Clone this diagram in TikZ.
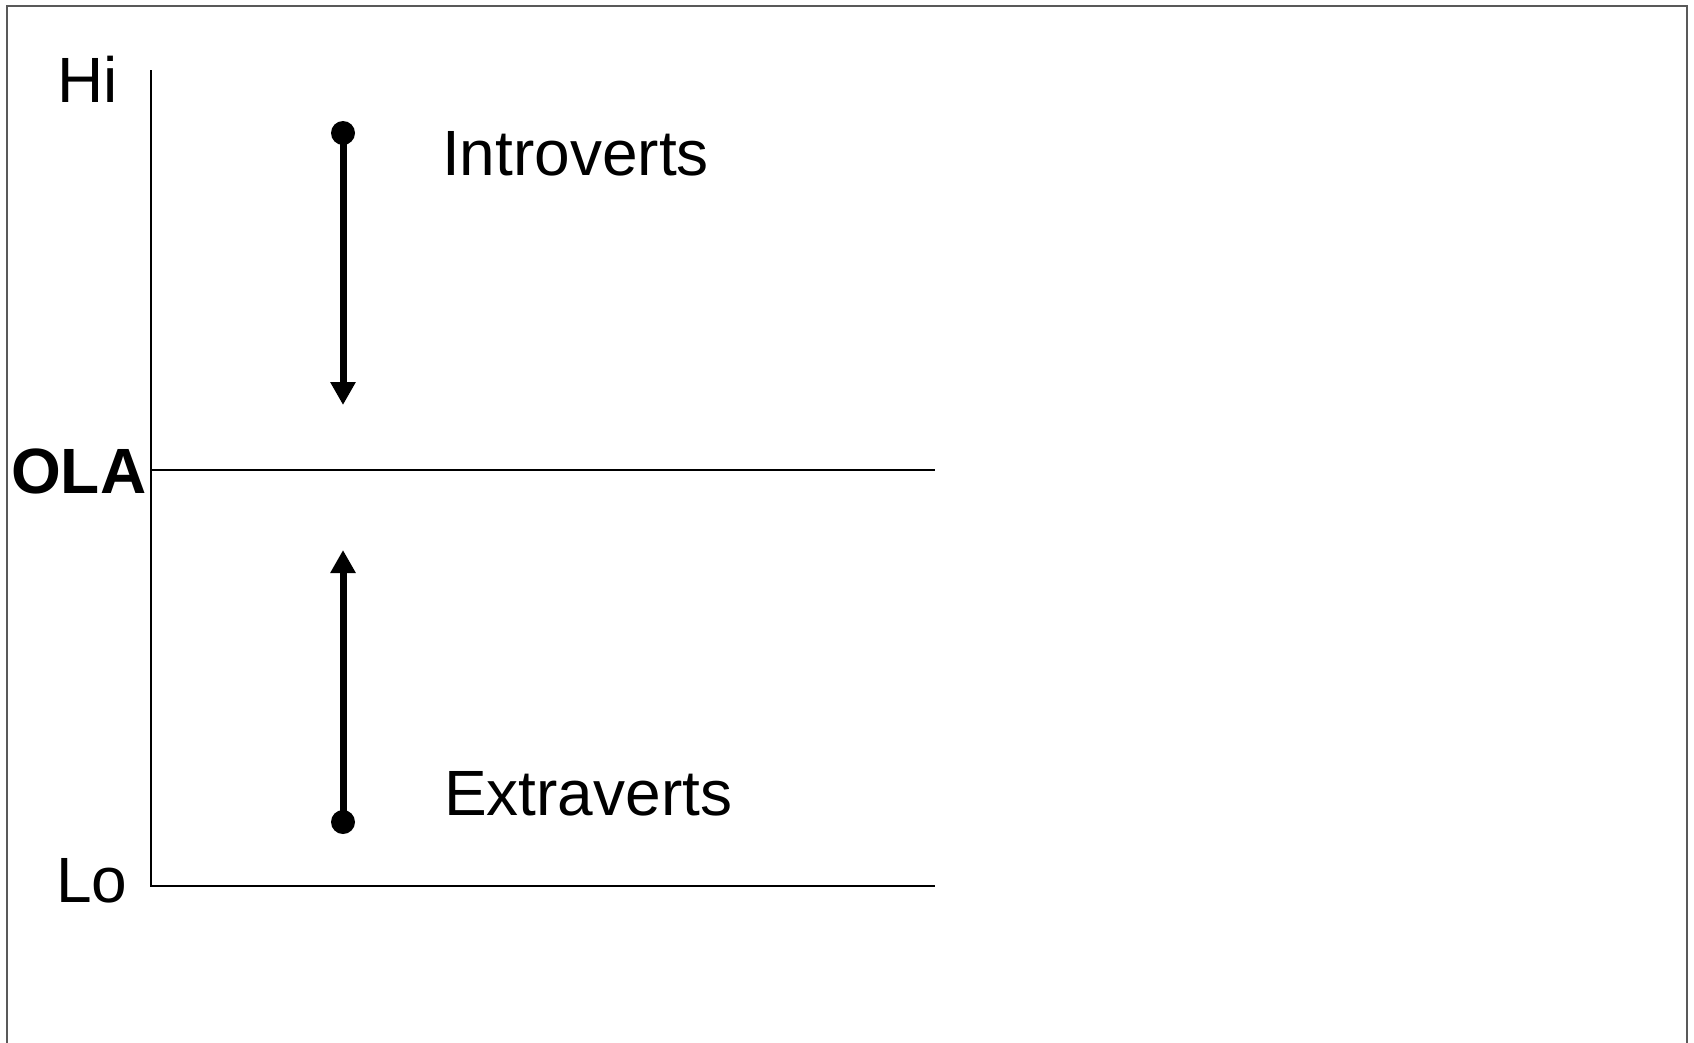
\documentclass[tikz,border=0pt]{standalone}
\usepackage{fontspec}
\setmainfont{Liberation Sans}
\usetikzlibrary{arrows.meta}
\begin{document}
\begin{tikzpicture}[x=1pt,y=-1pt,
  lbl/.style={inner sep=0pt,anchor=base west,font=\fontsize{64}{70}\selectfont},
  axis/.style={line width=2pt,black},
  dotnode/.style={circle,fill=black,inner sep=0pt,minimum size=24pt},
  move/.style={line width=7pt,-{Triangle[width=24pt,length=23pt]}}]
\clip (0,0) rectangle (1694,1042);
\fill[white] (0,0) rectangle (1694,1042);
\draw[line width=2.5pt,black!65] (7,1060) -- (7,6) -- (1687,6) -- (1687,1060);
% axes
\coordinate (top) at (151,70);
\coordinate (origin) at (151,886);
\coordinate (lend) at (935,886);
\coordinate (olaL) at (151,470);
\coordinate (olaR) at (935,470);
\draw[axis] (top) -- (origin) -- (lend);
\draw[axis] (olaL) -- (olaR);
% labels
\node[lbl] (hi) at (57,102) {Hi};
\node[lbl,font=\fontsize{64}{70}\selectfont\bfseries] (ola) at (11,493) {OLA};
\node[lbl] (lo) at (56,902) {Lo};
\node[lbl] (intro) at (442,175) {Introverts};
\node[lbl] (extra) at (444,815) {Extraverts};
% arrows
\node[dotnode] (d1) at (343,133) {};
\coordinate (t1) at (343,405);
\draw[move] (d1.center) -- (t1);
\node[dotnode] (d2) at (343,822) {};
\coordinate (t2) at (343,550);
\draw[move] (d2.center) -- (t2);
\end{tikzpicture}
\end{document}
